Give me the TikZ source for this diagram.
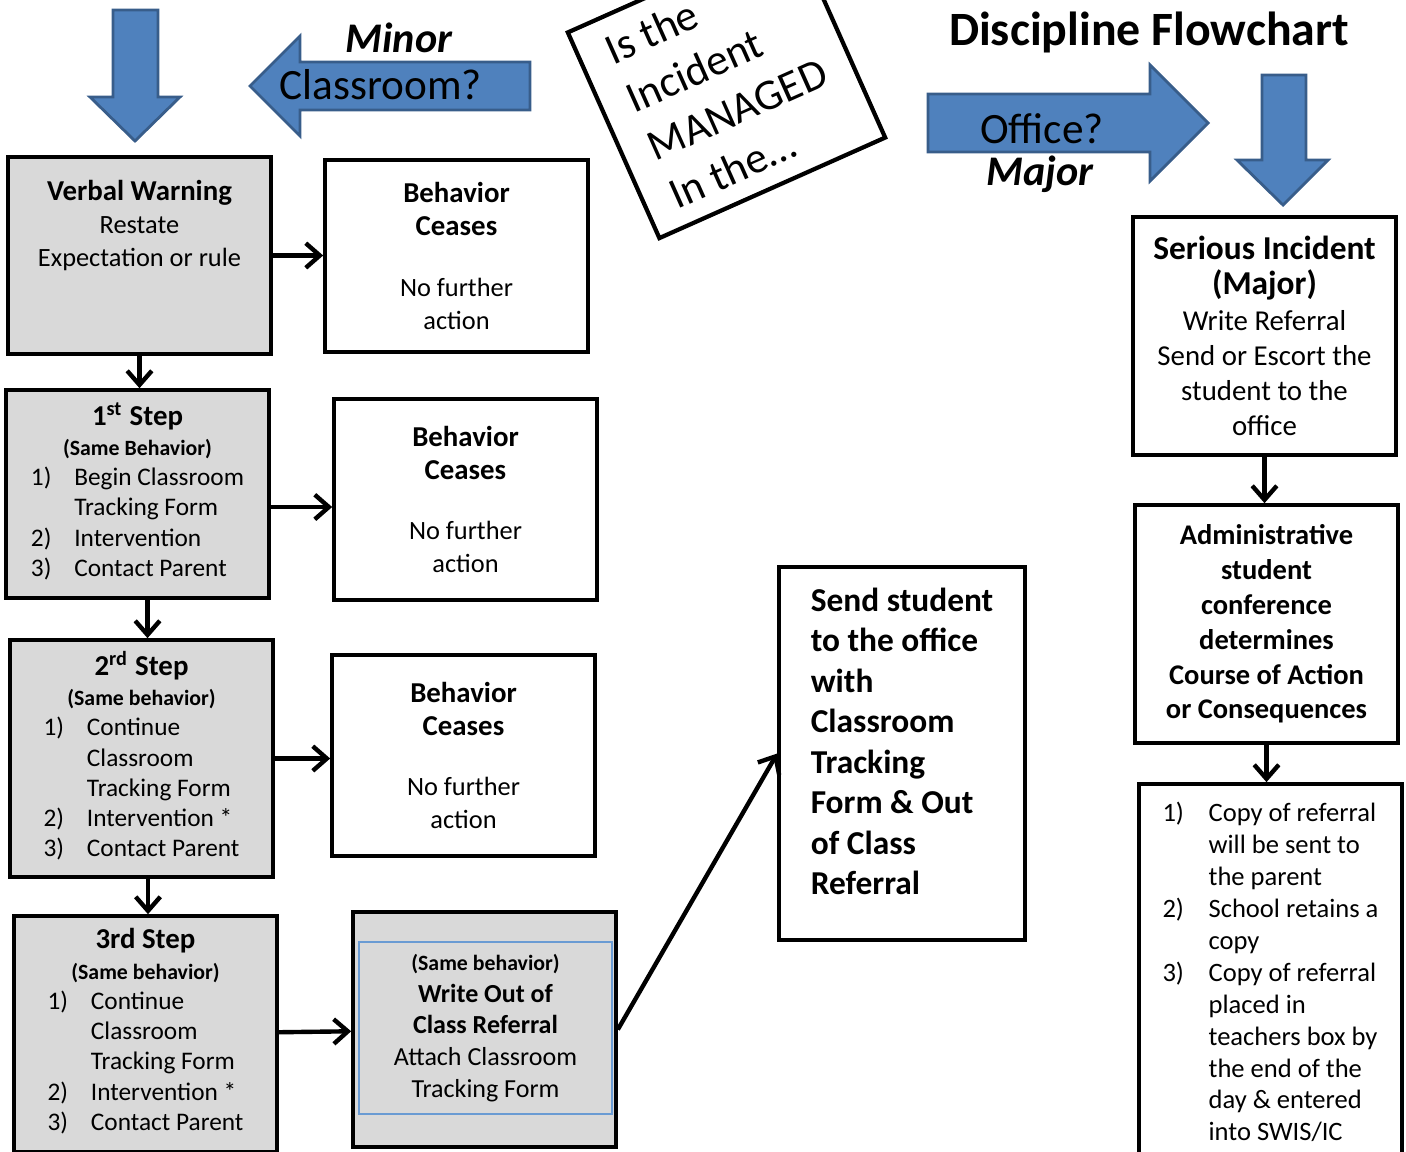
\documentclass[tikz,border=0pt]{standalone}
\usepackage{fontspec}
\setmainfont{Carlito}
\usepackage{tikz}
\usetikzlibrary{arrows.meta,positioning,calc}
\definecolor{boxgray}{HTML}{D9D9D9}
\definecolor{arrowblue}{HTML}{4F81BD}
\definecolor{arrowedge}{HTML}{385D8A}
\definecolor{innerblue}{HTML}{6A9BD3}
\newcommand{\hd}[1]{{\fontsize{8.2}{9.6}\selectfont\bfseries #1}}
\newcommand{\hdl}[1]{{\fontsize{9.5}{11}\selectfont\bfseries #1}}
\newcommand{\sm}[1]{{\fontsize{6.2}{7.5}\selectfont\bfseries #1}}
\newcommand{\steplist}[1]{{\fontsize{7.2}{8.6}\selectfont\begin{tabular}[t]{@{}l@{\hspace{6.5pt}}l@{}}#1\end{tabular}}}

\begin{document}
\begin{tikzpicture}[
  x=0.01cm, y=-0.01cm,
  box/.style={draw, line width=1pt, minimum width=2.63cm, align=center, inner sep=2pt, font={\fontsize{7.5}{9.3}\selectfont}},
  greybox/.style={box, fill=boxgray},
  stepbox/.style={greybox, font={\fontsize{7.2}{8.6}\selectfont}},
  arrow/.style={-{Straight Barb[length=4pt,width=7pt]}, line width=1.25pt},
  bigarrow/.style={fill=arrowblue, draw=arrowedge, line width=0.8pt, line join=miter},
  bigtext/.style={font={\fontsize{12.3}{14}\selectfont}},
  bigital/.style={font={\fontsize{12}{14}\selectfont\bfseries\itshape}}
]
  \useasboundingbox (0,0) rectangle (1406,1151);
  \clip (0,0) rectangle (1406,1151);

  % Big blue arrows at the top
  \filldraw[bigarrow] (113,10) -- (158,10) -- (158,97) -- (180,97) -- (135,141) -- (90,97) -- (113,97) -- cycle;
  \filldraw[bigarrow] (530,62) -- (300,62) -- (300,36) -- (250,86) -- (300,136) -- (300,110) -- (530,110) -- cycle;
  \filldraw[bigarrow] (928,94) -- (1150,94) -- (1150,65) -- (1208,123) -- (1150,181) -- (1150,152) -- (928,152) -- cycle;
  \filldraw[bigarrow] (1262,75) -- (1306,75) -- (1306,160) -- (1328,160) -- (1283,205) -- (1237,160) -- (1262,160) -- cycle;

  \node[bigital] (minor) at (399,38) {Minor};
  \node[bigtext] (classq) at (381,85) {Classroom?};
  \node[bigtext] (officeq) at (1042,129) {Office?};
  \node[bigital] (major) at (1040,174) {Major};
  \node[font={\fontsize{13.6}{16}\selectfont\bfseries}] (title) at (1149,32) {Discipline Flowchart};

  \node[draw, line width=1.2pt, fill=white, rotate=24, minimum width=2.47cm, minimum height=2.25cm, align=left,
        font={\fontsize{12.4}{15}\selectfont}] (managed) at (726.5,85) {Is the\\ Incident\\ MANAGED\\ In the\ldots};

  % Minor: classroom steps
  \node[greybox, minimum height=1.97cm] (verbal) at (139.5,255.5) {\hd{Verbal Warning}\\ Restate\\ Expectation or rule\\[9pt]\mbox{}};
  \node[box, minimum height=1.92cm] (cease1) at (456.5,256) {\hd{Behavior}\\ \hd{Ceases}\\[8pt] No further\\ action};

  \node[stepbox, minimum height=2.08cm] (step1) at (137.5,494) {\hd{1\textsuperscript{st} Step}\\ \sm{(Same Behavior)}\\
    \steplist{1) & Begin Classroom\\ & Tracking Form\\ 2) & Intervention\\ 3) & Contact Parent}};
  \node[box, minimum height=2.01cm] (cease2) at (465.5,499.5) {\hd{Behavior}\\ \hd{Ceases}\\[8pt] No further\\ action};

  \node[stepbox, minimum height=2.37cm] (step2) at (141.5,758.5) {\hd{2\textsuperscript{rd} Step}\\ \sm{(Same behavior)}\\
    \steplist{1) & Continue\\ & Classroom\\ & Tracking Form\\ 2) & Intervention *\\ 3) & Contact Parent}};
  \node[box, minimum height=2.01cm] (cease3) at (463.5,755.5) {\hd{Behavior}\\ \hd{Ceases}\\[8pt] No further\\ action};

  \node[stepbox, minimum height=2.36cm] (step3) at (145.5,1034) {\hd{3rd Step}\\ \sm{(Same behavior)}\\
    \steplist{1) & Continue\\ & Classroom\\ & Tracking Form\\ 2) & Intervention *\\ 3) & Contact Parent}};
  \node[greybox, minimum height=2.35cm] (writeout) at (484.5,1029.5) {};
  \node[draw=innerblue, line width=0.5pt, minimum width=2.53cm, minimum height=1.72cm, align=center,
        font={\fontsize{7.4}{9}\selectfont}] (writein) at (485.5,1028) {\sm{(Same behavior)}\\ \textbf{Write Out of}\\ \textbf{Class Referral}\\ Attach Classroom\\ Tracking Form};

  \node[box, minimum width=2.46cm, minimum height=3.73cm, align=left, font={\fontsize{9.5}{11.5}\selectfont\bfseries}] (send) at (902,753.5)
    {Send student\\ to the office\\ with\\ Classroom\\ Tracking\\ Form \& Out\\ of Class\\ Referral\\[-4.5pt]\mbox{}};

  % Major: office steps
  \node[box, minimum height=2.38cm, font={\fontsize{8.2}{10}\selectfont}] (serious) at (1264.5,336)
    {\hdl{Serious Incident}\\ \hdl{(Major)}\\ Write Referral\\ Send or Escort the\\ student to the\\ office};
  \node[box, minimum height=2.38cm, font={\fontsize{8.1}{9.9}\selectfont\bfseries}] (admin) at (1266.5,624)
    {Administrative\\ student\\ conference\\ determines\\ Course of Action\\ or Consequences};
  \node[box, minimum height=3.82cm, font={\fontsize{7.55}{9.07}\selectfont}] (copy) at (1270.5,975)
    {\begin{tabular}{@{}l@{\hspace{7pt}}l@{}}1) & Copy of referral\\ & will be sent to\\ & the parent\\ 2) & School retains a\\ & copy\\
     3) & Copy of referral\\ & placed in\\ & teachers box by\\ & the end of the\\ & day \& entered\\ & into SWIS/IC\end{tabular}};

  % Connectors
  \draw[arrow] (verbal.east) -- (verbal.east -| cease1.west);
  \draw[arrow] ([yshift=-0.13cm]step1.east) -- ([yshift=-0.13cm]step1.east -| cease2.west);
  \draw[arrow] (step2.east) -- (step2.east -| cease3.west);
  \draw[arrow] (step3) -- (writeout);
  \draw[arrow] (writeout.east) -- (send.west);
  \draw[arrow] (verbal.south) -- (verbal.south |- step1.north);
  \draw[arrow] ([xshift=0.1cm]step1.south) -- ([xshift=0.1cm]step1.south |- step2.north);
  \draw[arrow] ([xshift=0.065cm]step2.south) -- ([xshift=0.065cm]step2.south |- step3.north);
  \draw[arrow] (serious.south) -- (serious.south |- admin.north);
  \draw[arrow] (admin.south) -- (admin.south |- copy.north);
\end{tikzpicture}
\end{document}
